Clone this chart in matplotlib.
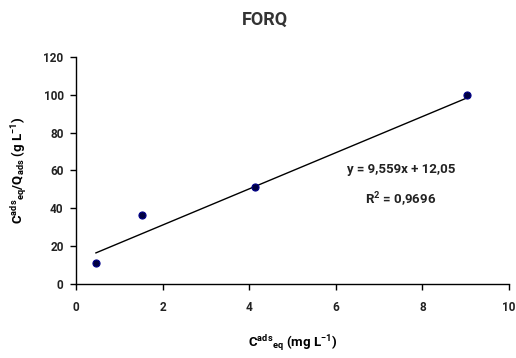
import matplotlib
matplotlib.use("Agg")
import matplotlib.pyplot as plt
import numpy as np

# --- Datos ---
c_eq = [0.46, 1.52, 4.13, 9.02]
c_over_q = [10.9, 36.6, 51.4, 99.8]
slope = 9.559
intercept = 12.05
r2_text = "0,9696"
x_ticks = [0, 2, 4, 6, 8, 10]
y_ticks = [0, 20, 40, 60, 80, 100, 120]

plt.rcParams['font.family'] = ['Roboto', 'DejaVu Sans']
plt.rcParams['font.weight'] = 'bold'
plt.rcParams['mathtext.fontset'] = 'custom'
plt.rcParams['mathtext.rm'] = 'Roboto:bold'
plt.rcParams['mathtext.it'] = 'Roboto:bold'
plt.rcParams['mathtext.bf'] = 'Roboto:bold'

fig = plt.figure(figsize=(5.16, 3.58), dpi=100)
ax = fig.add_axes([0.1473, 0.2067, 0.8391, 0.6341])

ax.scatter(c_eq, c_over_q, s=26, color='#000040', edgecolors='#00008B', linewidths=0.8, zorder=3)

# Línea de tendencia
xf = np.array([min(c_eq), max(c_eq)])
ax.plot(xf, slope * xf + intercept, color='black', linewidth=1.0, zorder=2)

ax.set_xlim(0, 10)
ax.set_ylim(0, 120)
ax.set_xticks(x_ticks)
ax.set_yticks(y_ticks)
ax.tick_params(axis='both', direction='out', length=4, width=1, labelsize=8.5, colors='black', pad=5)
ax.tick_params(axis='x', pad=8)
for lab in ax.get_xticklabels() + ax.get_yticklabels():
    lab.set_fontweight('bold')
    lab.set_color('#222222')
ax.spines['top'].set_visible(False)
ax.spines['right'].set_visible(False)
ax.spines['left'].set_linewidth(1)
ax.spines['bottom'].set_linewidth(1)

fig.text(265 / 516, 1 - 20 / 358, 'FORQ', fontsize=13, fontweight='bold', color='#333333',
         ha='center', va='center')
ax.set_xlabel(r'C$^{\mathrm{ads}}$$_{\mathrm{eq}}$ (mg L$^{-1}$)', fontsize=9.5, fontweight='bold', labelpad=14)
ax.set_ylabel(r'C$^{\mathrm{ads}}$$_{\mathrm{eq}}$/Q$_{\mathrm{ads}}$ (g L$^{-1}$)', fontsize=9.5, fontweight='bold', labelpad=10)

ax.text(7.5, 60.3, f'y = {slope:.3f}x + {intercept:.2f}'.replace('.', ','), fontsize=9.5,
        fontweight='bold', ha='center', va='center', color='#222222')
ax.text(7.5, 44.4, r'R$^{2}$ = ' + r2_text, fontsize=9.5, fontweight='bold', ha='center', va='center',
        color='#222222')

fig.savefig('out.png', dpi=100)
